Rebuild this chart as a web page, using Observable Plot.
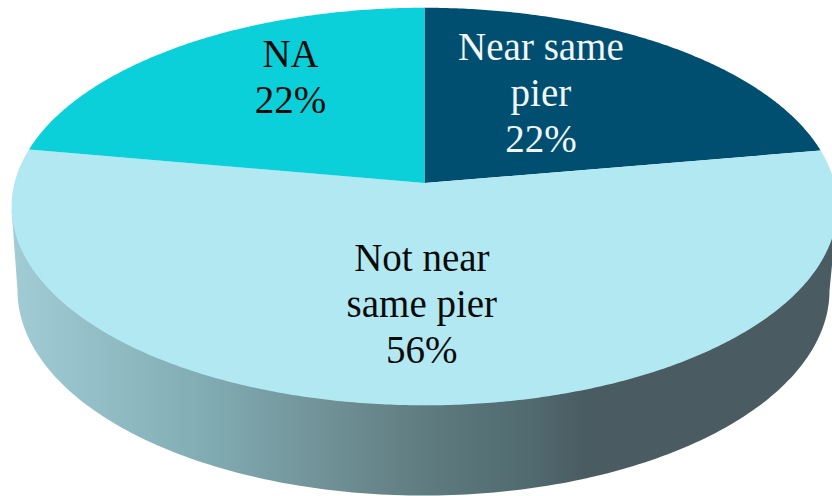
<!DOCTYPE html>
<html>
<head>
<meta charset="utf-8">
<script src="https://cdn.jsdelivr.net/npm/d3@7"></script>
<script src="https://cdn.jsdelivr.net/npm/@observablehq/plot@0.6"></script>
<style>html,body{margin:0;padding:0;background:#fff;overflow:hidden}svg{display:block}</style>
</head>
<body>
<div id="chart"></div>
<script>
// Data, clockwise from twelve o'clock (labels show rounded values)
const categories = ["Near same\npier", "Not near\nsame pier", "NA"];
const shares = [22.3, 55.5, 22.2];
const sliceColors = ["#004f71", "#b2e8f1", "#0bd0d9"];
const textColors = ["#f2f6f7", "#0a0a0a", "#0a0a0a"];
const labelNudgeX = [-10, -2, -8];
const labelNudgeY = [-20, 15, -36];

// Perspective view of the disc
const view = {cx: 424, cy: 182.5, a: 410, b: 196, p: 0.1184};
const project = (deg, r = 1) => {
  const t = deg * Math.PI / 180, u = r * Math.sin(t), v = r * Math.cos(t), w = 1 + view.p * v;
  return {x: view.cx + view.a * u / w, y: view.cy - view.b * v / w};
};
const lower = {cx: 423, cy: 290, rx: 406, ry: 205};

const total = d3.sum(shares);
const cum = d3.cumsum(shares);
const ends = Array.from(cum, c => c / total * 360);
const starts = ends.map((e, i) => i ? ends[i - 1] : 0);

const slices = categories.flatMap((c, i) => {
  const pts = [{key: c, color: sliceColors[i], x: view.cx, y: view.cy}];
  for (let d = starts[i]; d < ends[i]; d += 0.5) pts.push({key: c, color: sliceColors[i], ...project(d)});
  pts.push({key: c, color: sliceColors[i], ...project(ends[i])});
  return pts;
});

// Side wall: lower half of the bottom rim, joined to the widest points of the top rim
const wall = [];
for (let a = 0; a <= 180; a += 1) {
  const t = a * Math.PI / 180;
  wall.push({x: lower.cx + lower.rx * Math.cos(t), y: lower.cy + lower.ry * Math.sin(t)});
}
wall.push(project(262), project(98));

const stops = [[0, "#a4ced7"], [0.24, "#82adb5"], [0.4, "#6f9095"], [0.52, "#5e7a7e"], [0.64, "#506a70"], [0.7, "#4a5c62"], [1, "#4a5c62"]];
const defs = () => {
  const d = d3.create("svg:defs");
  const g = d.append("linearGradient").attr("id", "wallShade").attr("gradientUnits", "userSpaceOnUse")
    .attr("x1", 0).attr("x2", 832).attr("y1", 0).attr("y2", 0);
  stops.forEach(([o, c]) => g.append("stop").attr("offset", o).attr("stop-color", c));
  return d.node();
};

const labels = categories.map((c, i) => {
  const p = project((starts[i] + ends[i]) / 2, 0.5);
  return {text: `${c}\n${Math.round(shares[i])}%`, x: p.x, y: p.y, color: textColors[i], dx: labelNudgeX[i], dy: labelNudgeY[i]};
});

const plot = Plot.plot({
  width: 832, height: 496, margin: 0,
  x: {domain: [0, 832], range: [0, 832], axis: null},
  y: {domain: [0, 496], range: [0, 496], axis: null},
  style: {background: "#fff"},
  marks: [
    defs,
    Plot.line(wall, {x: "x", y: "y", fill: "url(#wallShade)", stroke: "none"}),
    Plot.line(slices, {x: "x", y: "y", z: "key", fill: "color", stroke: "none"}),
    ...labels.map(l => Plot.text([l], {
      x: "x", y: "y", text: "text", fill: "color", dx: l.dx, dy: l.dy,
      fontFamily: "Liberation Serif", fontSize: 39, lineHeight: 1.18, textAnchor: "middle"
    }))
  ]
});
document.getElementById("chart").append(plot);
</script>
</body>
</html>
